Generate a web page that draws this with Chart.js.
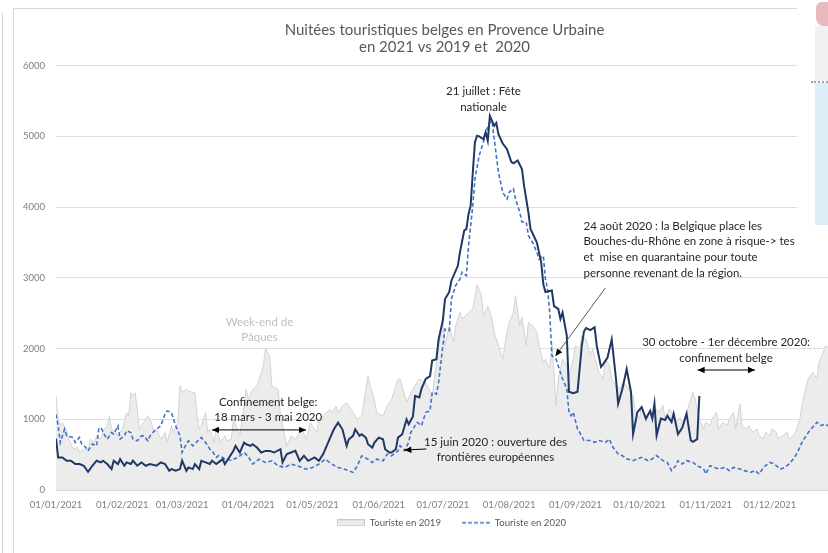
<!DOCTYPE html>
<html><head><meta charset="utf-8">
<script src="https://cdn.jsdelivr.net/npm/chart.js@4.4.1/dist/chart.umd.min.js"></script>
<style>
html,body{margin:0;padding:0;width:828px;height:553px;overflow:hidden;background:#fff;}
#outer{position:absolute;left:2px;top:13px;width:0;height:545px;border-left:1px solid #d4d4d4;}
#frame{position:absolute;left:13px;top:8px;width:900px;height:600px;border-left:1px solid #d9d9d9;border-top:1px solid #d9d9d9;}
#c{position:absolute;left:13px;top:8px;}
#ov{position:absolute;left:797px;top:0;width:31px;height:228px;background:#fff;}
#ovBlue{position:absolute;left:815px;top:83px;width:13px;height:142px;background:#ddeef9;}
#ovLine{position:absolute;left:811px;top:81px;width:17px;height:0;border-top:2px dotted #9aa4ad;}
#ovPink{position:absolute;left:816px;top:2px;width:12px;height:24px;background:#e9b9bd;border-radius:6px 0 0 8px;}
#ovGray{position:absolute;left:815px;top:26px;width:13px;height:55px;background:#f1f1f1;}
</style></head>
<body>
<div id="outer"></div>
<div id="frame"></div>
<canvas id="c" width="863" height="545"></canvas>
<div id="ov"></div><div id="ovGray"></div><div id="ovPink"></div><div id="ovLine"></div><div id="ovBlue"></div>
<script>
// ---- data (day of year 2021, 0 = 01/01) ----
const monthStartDays = [0,31,59,90,120,151,181,212,243,273,304,334];
const tickLabels = ["01/01/2021","01/02/2021","01/03/2021","01/04/2021","01/05/2021","01/06/2021","01/07/2021","01/08/2021","01/09/2021","01/10/2021","01/11/2021","01/12/2021"];
const seriesNames = ["Touriste en 2019","Touriste en 2020","Touriste en 2021"];

const tourists2019 = [[0,1330],[1,1000],[2,907],[3,954],[5,837],[6,719],[8,578],[10,602],[11,531],[13,578],[15,555],[16,719],[18,672],[19,766],[21,719],[22,837],[24,907],[25,1048],[26,860],[28,813],[29,766],[31,860],[33,1095],[34,1048],[35,1377],[36,1330],[37,1377],[38,1142],[39,860],[41,954],[43,1048],[44,1000],[46,813],[47,860],[49,719],[51,813],[52,672],[54,907],[55,813],[57,954],[58,1471],[59,1377],[61,1424],[62,1400],[64,1377],[65,1377],[66,1048],[67,860],[68,907],[70,1095],[71,813],[72,860],[74,672],[75,860],[77,672],[79,766],[80,696],[82,719],[83,999],[86,765],[89,1421],[90,1280],[92,1421],[94,1468],[97,1750],[98,2007],[100,1890],[101,1468],[104,1421],[105,1046],[108,624],[110,765],[112,718],[115,858],[117,718],[119,952],[122,811],[123,999],[125,1046],[128,1140],[129,1093],[131,1187],[132,1093],[134,1187],[136,1233],[139,1093],[141,999],[143,1046],[146,1609],[147,1468],[149,1280],[150,1093],[153,1046],[155,1187],[157,1280],[160,1562],[161,1570],[164,1240],[167,1430],[170,1570],[173,1520],[176,1330],[179,2040],[181,2370],[182,2040],[184,2320],[186,2090],[187,2320],[189,2510],[190,2420],[195,2560],[197,2900],[199,2750],[200,2465],[202,2600],[204,2420],[205,2230],[207,2040],[209,1850],[211,2230],[212,2370],[214,2500],[215,2750],[217,2320],[218,2450],[220,2040],[221,2370],[223,2320],[225,2230],[226,2040],[228,1805],[229,1850],[231,1710],[232,2090],[234,1190],[235,1570],[237,1850],[239,1760],[240,1620],[242,1850],[243,2040],[245,1995],[246,2180],[248,2135],[250,1900],[251,1995],[253,1760],[254,1665],[256,1570],[257,1850],[259,1760],[260,1570],[262,1475],[264,1430],[265,1520],[267,1475],[268,1430],[270,1334],[271,1098],[273,1005],[274,1195],[276,957],[278,1098],[279,1005],[281,1146],[282,1098],[284,1195],[285,1005],[287,1146],[289,1052],[290,957],[292,1028],[293,957],[295,1052],[296,1195],[298,1380],[299,1290],[301,1005],[303,863],[304,957],[306,910],[307,1005],[309,1098],[310,863],[312,957],[314,910],[315,1005],[317,1098],[318,863],[320,1217],[321,910],[323,863],[324,910],[326,816],[328,863],[329,769],[331,722],[332,816],[334,769],[335,863],[337,816],[338,722],[340,769],[342,816],[343,722],[345,769],[346,816],[348,1005],[349,1195],[351,1475],[352,1570],[354,1665],[356,1570],[357,1805],[359,1947],[360,2041],[362,2000],[364,2050]];

const tourists2020 = [[0,1070],[1,907],[2,672],[4,860],[5,766],[8,743],[9,672],[11,743],[12,649],[14,602],[15,555],[17,649],[19,625],[20,860],[21,884],[23,766],[24,719],[26,813],[27,790],[29,907],[30,719],[32,766],[33,837],[35,813],[36,719],[38,696],[40,766],[41,766],[43,696],[44,766],[46,837],[47,860],[49,907],[51,1072],[52,1119],[54,1095],[55,1001],[56,907],[58,766],[59,531],[61,649],[62,696],[64,625],[65,649],[67,719],[68,743],[70,672],[72,578],[73,555],[75,461],[76,484],[78,461],[79,437],[82,420],[85,460],[88,530],[90,470],[92,366],[95,436],[98,389],[101,413],[104,342],[107,319],[110,366],[113,342],[117,295],[120,319],[123,366],[126,436],[129,366],[132,319],[135,295],[139,249],[141,342],[143,483],[146,436],[148,389],[150,436],[153,413],[155,507],[157,483],[160,553],[161,627],[163,556],[165,674],[166,815],[168,910],[169,957],[171,910],[173,1098],[175,1120],[176,1380],[178,1357],[179,1522],[181,2041],[182,2276],[184,2253],[185,2700],[187,2890],[189,2984],[190,3080],[192,3030],[193,3455],[195,4020],[196,4400],[198,4730],[200,4920],[201,5060],[203,5200],[204,5220],[206,4730],[207,4490],[209,4210],[211,4115],[212,4210],[214,4260],[215,4115],[217,3925],[218,3790],[220,3790],[221,3600],[223,3500],[225,3360],[226,3265],[228,3310],[229,2980],[230,2840],[231,2510],[232,1900],[234,1850],[236,1660],[237,1570],[239,1430],[240,1100],[241,1050],[242,1100],[244,860],[245,815],[247,700],[250,700],[252,674],[254,700],[257,674],[259,720],[260,627],[263,510],[265,486],[267,440],[270,415],[272,440],[274,462],[277,415],[279,440],[281,486],[284,415],[286,390],[288,274],[290,344],[291,415],[293,368],[295,415],[298,390],[300,344],[303,297],[304,227],[306,344],[308,320],[310,297],[313,320],[315,274],[317,320],[320,297],[322,274],[325,250],[327,274],[329,227],[331,320],[334,390],[336,368],[339,297],[341,320],[343,368],[345,440],[347,533],[349,674],[352,815],[354,886],[356,957],[358,910],[360,933],[361,910],[364,950]];

const tourists2021 = [[0,728],[1,460],[3,460],[5,414],[7,414],[9,367],[11,367],[13,343],[15,258],[17,343],[19,414],[21,390],[22,414],[24,367],[26,296],[27,414],[29,367],[30,437],[32,343],[33,390],[35,367],[36,414],[38,343],[40,390],[42,343],[44,367],[47,343],[49,390],[51,367],[53,272],[54,296],[56,272],[58,296],[59,414],[61,272],[62,320],[64,296],[65,366],[67,296],[68,413],[70,390],[72,367],[73,414],[75,367],[76,390],[78,437],[79,367],[81,460],[83,555],[84,624],[86,530],[88,671],[89,647],[91,624],[92,647],[94,600],[96,530],[98,553],[100,553],[102,530],[105,577],[106,390],[108,507],[110,530],[112,553],[114,413],[116,483],[118,413],[121,460],[123,413],[125,507],[128,718],[130,858],[132,952],[134,858],[136,624],[137,718],[139,765],[140,858],[142,765],[143,788],[145,741],[146,647],[148,600],[149,671],[151,741],[153,718],[154,577],[156,530],[157,530],[159,577],[160,741],[162,788],[164,999],[165,930],[167,1040],[168,1330],[170,1310],[171,1430],[173,1570],[175,1610],[176,1830],[178,1850],[179,2130],[181,2400],[182,2700],[184,2800],[185,2960],[188,3170],[189,3360],[191,3670],[192,3690],[193,3900],[194,4020],[195,4490],[196,4920],[197,5010],[198,5000],[200,4960],[201,5060],[202,4940],[203,5290],[205,5150],[206,5190],[207,5030],[209,4900],[211,4820],[213,4640],[214,4620],[216,4660],[218,4540],[219,4300],[221,3930],[222,3690],[225,3500],[227,3220],[228,2910],[229,2800],[232,2820],[233,2600],[235,2560],[236,2420],[237,2510],[239,2180],[240,1390],[242,1370],[244,1390],[246,2040],[247,2240],[248,2290],[250,2260],[252,2300],[253,2040],[255,1740],[256,1780],[258,1870],[260,2130],[262,1570],[263,1220],[265,1430],[267,1710],[269,1390],[270,790],[272,1100],[274,1170],[276,1010],[278,1120],[279,1010],[280,1220],[281,770],[283,1010],[285,990],[286,1050],[288,960],[289,1080],[291,790],[293,880],[295,1080],[297,700],[298,680],[300,720],[301,1330]];

// ---- annotations (anchored in data units) ----
const notes = [
  {lines:["21 juillet : Fête","nationale"], day:200, value:5640, align:'center', color:'#262626'},
  {lines:["Week-end de","Pâques"], day:95.2, value:2375, align:'center', color:'#bfbfbf'},
  {lines:["Confinement belge:","18 mars - 3 mai 2020"], day:99.3, value:1245, align:'center', color:'#262626'},
  {lines:["15 juin 2020 : ouverture des","frontières européennes"], day:205.6, value:680, align:'center', color:'#262626'},
  {lines:["24 août 2020 : la Belgique place les","Bouches-du-Rhône en zone à risque-> tes","et  mise en quarantaine pour toute","personne revenant de la région."], day:246.8, value:3735, align:'left', color:'#262626'},
  {lines:["30 octobre - 1er décembre 2020:","confinement belge"], day:313.5, value:2090, align:'center', color:'#262626'}
];
const arrows = [
  {from:[73,850], to:[117,850], both:true, color:'#000'},
  {from:[173.3,580], to:[163,565], both:false, color:'#000'},
  {from:[257,2856], to:[233.7,1895], both:false, color:'#595959'},
  {from:[300.2,1697], to:[327,1697], both:true, color:'#000'}
];

const FONT = 'Lato, "Open Sans", sans-serif';
const toPts = arr => arr.map(p => ({x:p[0], y:p[1]}));

// legend symbols (left 14px transparent = spacing before each item)
function legendSymbol(kind){
  const c = document.createElement('canvas');
  c.width = 42; c.height = 7;
  const g = c.getContext('2d');
  if (kind === 'area') {
    g.fillStyle = '#ececec'; g.fillRect(14, 0, 28, 7);
    g.strokeStyle = '#c9c9c9'; g.lineWidth = 1; g.strokeRect(14.5, 0.5, 27, 6);
  } else {
    g.strokeStyle = '#4472c4'; g.lineWidth = 1.6; g.setLineDash([4, 2]);
    g.beginPath(); g.moveTo(14, 3.5); g.lineTo(42, 3.5); g.stroke();
  }
  return c;
}
const symbols = [legendSymbol('area'), legendSymbol('dash')];

function head(ctx, x1, y1, x2, y2, color){
  const a = Math.atan2(y2-y1, x2-x1), L = 7, W = 3.2;
  ctx.beginPath();
  ctx.moveTo(x2, y2);
  ctx.lineTo(x2 - L*Math.cos(a) + W*Math.sin(a), y2 - L*Math.sin(a) - W*Math.cos(a));
  ctx.lineTo(x2 - L*Math.cos(a) - W*Math.sin(a), y2 - L*Math.sin(a) + W*Math.cos(a));
  ctx.closePath(); ctx.fillStyle = color; ctx.fill();
}

const notesPlugin = {
  id:'notes',
  afterDatasetsDraw(chart){
    const {ctx, scales:{x, y}} = chart;
    ctx.save();
    ctx.textBaseline = 'middle';
    ctx.font = '11.5px ' + FONT;
    notes.forEach(n => {
      ctx.fillStyle = n.color; ctx.textAlign = n.align;
      const px = x.getPixelForValue(n.day), py = y.getPixelForValue(n.value);
      n.lines.forEach((t,i) => ctx.fillText(t, px, py + i*15.7));
    });
    arrows.forEach(a => {
      const x1 = x.getPixelForValue(a.from[0]), y1 = y.getPixelForValue(a.from[1]);
      const x2 = x.getPixelForValue(a.to[0]), y2 = y.getPixelForValue(a.to[1]);
      ctx.strokeStyle = a.color; ctx.lineWidth = 1;
      ctx.beginPath(); ctx.moveTo(x1,y1); ctx.lineTo(x2,y2); ctx.stroke();
      head(ctx, x1, y1, x2, y2, '#000');
      if (a.both) head(ctx, x2, y2, x1, y1, '#000');
    });
    ctx.restore();
  }
};

new Chart(document.getElementById('c'), {
  type:'line',
  data:{
    datasets:[
      {label:seriesNames[0], data:toPts(tourists2019), fill:'origin', backgroundColor:'#ececec', borderColor:'#d3d3d3', borderWidth:1, pointRadius:0, tension:0, order:3},
      {label:seriesNames[1], data:toPts(tourists2020), fill:false, borderColor:'#4472c4', borderWidth:1.6, borderDash:[4,2.5], pointRadius:0, tension:0, order:2},
      {label:seriesNames[2], data:toPts(tourists2021), fill:false, borderColor:'#1f3864', borderWidth:2, pointRadius:0, tension:0, order:1}
    ]
  },
  options:{
    responsive:false, animation:false,
    layout:{padding:{left:0, right:0, top:0, bottom:15.4}},
    plugins:{
      title:{display:true, text:["Nuitées touristiques belges en Provence Urbaine","en 2021 vs 2019 et  2020"], color:'#595959', font:{family:FONT, size:15, weight:'normal', lineHeight:1.12}, padding:{top:13.6, bottom:10.5}},
      legend:{position:'bottom', labels:{usePointStyle:true, pointStyleWidth:42, boxHeight:7, padding:7, color:'#595959', font:{family:FONT, size:9.6},
        generateLabels:chart => Chart.defaults.plugins.legend.labels.generateLabels(chart)
          .filter(it => it.datasetIndex !== 2)
          .sort((a,b) => a.datasetIndex - b.datasetIndex)
          .map(it => Object.assign(it, {pointStyle: symbols[it.datasetIndex]}))}},
      tooltip:{enabled:false}
    },
    scales:{
      x:{type:'linear', min:0, max:364,
        afterBuildTicks:s => { s.ticks = monthStartDays.map(v => ({value:v})); },
        afterFit:s => { s.height = 21; },
        grid:{display:false, drawTicks:false}, border:{display:true, color:'#d9d9d9'},
        ticks:{autoSkip:false, maxRotation:0, padding:9, color:'#7f7f7f', font:{family:FONT, size:9.5},
          callback:(v, i) => tickLabels[i]}},
      y:{min:0, max:6000, afterFit:s => { s.width = 43; },
        grid:{color:'#dedede', drawTicks:false}, border:{display:false},
        ticks:{stepSize:1000, padding:11, color:'#7f7f7f', font:{family:FONT, size:9.5}, callback:v => String(v)}},
      yRight:{position:'right', display:true, afterFit:s => { s.width = 42; },
        grid:{display:false, drawTicks:false}, border:{display:false}, ticks:{display:false}}
    }
  },
  plugins:[notesPlugin]
});
</script>
</body></html>
